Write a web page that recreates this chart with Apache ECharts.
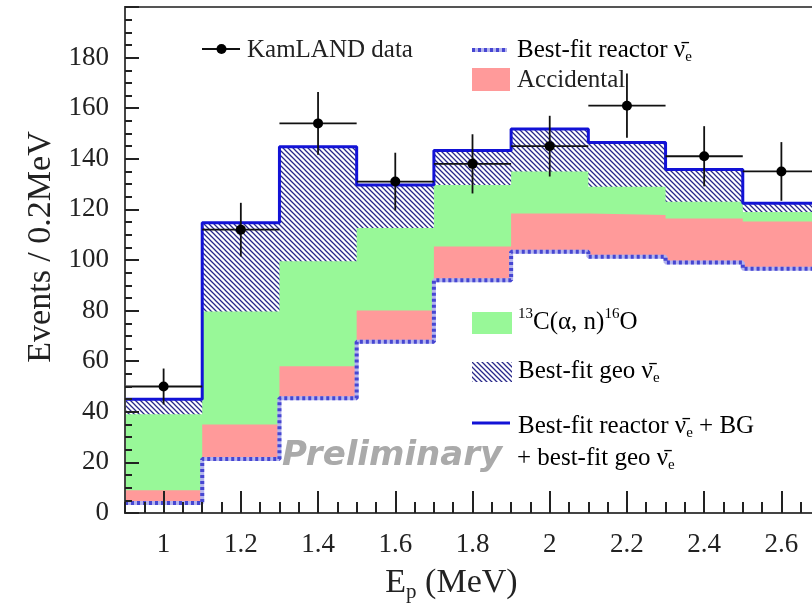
<!DOCTYPE html>
<html>
<head>
<meta charset="utf-8">
<script src="https://cdn.jsdelivr.net/npm/echarts@6/dist/echarts.min.js"></script>
<style>
html,body{margin:0;padding:0;background:#fff;}
#chart{width:812px;height:605px;}
</style>
</head>
<body>
<div id="chart"></div>
<script>
// ---- data ----
const binEdges = [0.9, 1.1, 1.3, 1.5, 1.7, 1.9, 2.1, 2.3, 2.5, 2.7];
// cumulative stacked tops per bin
const reactorBestFit = [4, 21.3, 45.4, 67.7, 92, 103.3, 101.3, 99, 96.5];
const accidentalTop  = [9, 35, 58, 80, 105.3, 118.4, 117.8, 116.4, 115.2];
const c13Top         = [39, 79.6, 99.5, 112.6, 129.6, 135, 129, 123, 119];
const totalTop       = [45, 114.7, 144.8, 129.6, 143.3, 151.8, 146.4, 135.8, 122.4];
// KamLAND data points
const dataEp     = [1.0, 1.2, 1.4, 1.6, 1.8, 2.0, 2.2, 2.4, 2.6];
const dataCounts = [50, 112, 154, 131, 138, 145, 161, 141, 135];
const dataErr    = [7.1, 10.6, 12.4, 11.4, 11.7, 12.0, 12.7, 11.9, 11.6];
const binHalf    = 0.1;

const serif = "'Liberation Serif', 'Times New Roman', serif";
const NU = '\u03bd\u0304';

function stepData(vals) {
  return binEdges.map((e, i) => [e, vals[Math.min(i, vals.length - 1)]]);
}

// hatch pattern tile
function makeHatch() {
  const s = 5;
  const c = document.createElement('canvas');
  c.width = s; c.height = s;
  const g = c.getContext('2d');
  g.fillStyle = '#ffffff';
  g.fillRect(0, 0, s, s);
  g.strokeStyle = '#28288a';
  g.lineWidth = 1.25;
  g.beginPath();
  g.moveTo(-s / 2, -s / 2); g.lineTo(1.5 * s, 1.5 * s);
  g.moveTo(-s / 2, s / 2); g.lineTo(s / 2, 1.5 * s);
  g.moveTo(s / 2, -s / 2); g.lineTo(1.5 * s, s / 2);
  g.stroke();
  return c;
}
const hatch = { image: makeHatch(), repeat: 'repeat' };

const chart = echarts.init(document.getElementById('chart'), null, { renderer: 'canvas' });

const areaSeries = (name, vals, color, z) => ({
  type: 'line', name, data: stepData(vals), step: 'end', symbol: 'none',
  lineStyle: { opacity: 0, width: 0 },
  areaStyle: { color, opacity: 1 },
  z, silent: true, animation: false
});

const legendText = { fontFamily: serif, fontSize: 25, fill: '#222' };
const richT = { fontFamily: serif, fontSize: 25, lineHeight: 30, color: '#222' };
const richS = { fontFamily: serif, fontSize: 15, color: '#222', verticalAlign: 'bottom' };
const richP = { fontFamily: serif, fontSize: 15, color: '#222', verticalAlign: 'top' };
const tickColor = '#222';

const option = {
  animation: false,
  backgroundColor: '#ffffff',
  grid: {
    left: 125, top: 7, bottom: 92, right: -8, containLabel: false, outerBoundsMode: 'none',
    show: true, borderColor: '#555', borderWidth: 2, backgroundColor: 'transparent', z: -20
  },
  xAxis: [
    {
      type: 'value', min: 0.9, max: 2.7, splitNumber: 9, position: 'bottom', z: 10,
      name: '{a|E}{s|p}{a| (MeV)}', nameLocation: 'middle', nameGap: 50,
      nameTextStyle: {
        padding: [0, 42, 0, 0],
        rich: {
          a: { fontFamily: serif, fontSize: 34, color: '#222', lineHeight: 40 },
          s: { fontFamily: serif, fontSize: 21, color: '#222', verticalAlign: 'bottom', lineHeight: 40 }
        }
      },
      axisLine: { show: true, onZero: false, lineStyle: { color: '#444', width: 2 } },
      axisTick: { show: true, inside: true, length: 22, lineStyle: { color: tickColor, width: 2 } },
      minorTick: { show: false },
      axisLabel: { fontFamily: serif, fontSize: 27, color: '#222', margin: 18, showMinLabel: false, showMaxLabel: false },
      splitLine: { show: false }
    },
    {
      type: 'value', min: 0.9, max: 2.7, splitNumber: 36, position: 'bottom', offset: 0, z: 10,
      axisLine: { show: false, onZero: false },
      axisTick: { show: true, inside: true, length: 11, lineStyle: { color: tickColor, width: 2 } },
      axisLabel: { show: false },
      splitLine: { show: false }
    }
  ],
  yAxis: {
    type: 'value', min: 0, max: 200, interval: 20, z: 10,
    name: 'Events / 0.2MeV', nameLocation: 'middle', nameGap: 62,
    nameTextStyle: { fontFamily: serif, fontSize: 34, color: '#222', padding: [0, 0, 0, 26] },
    axisLine: { show: true, lineStyle: { color: '#444', width: 2 } },
    axisTick: { show: true, inside: true, length: 14, lineStyle: { color: tickColor, width: 2 } },
    minorTick: { show: true, splitNumber: 4, length: 7, lineStyle: { color: tickColor, width: 2 } },
    axisLabel: { fontFamily: serif, fontSize: 27, color: '#222', margin: 16, showMaxLabel: false },
    splitLine: { show: false }
  },
  series: [
    areaSeries('Best-fit geo', totalTop, hatch, -10),
    areaSeries('13C(a,n)16O', c13Top, '#98f898', -9),
    areaSeries('Accidental', accidentalTop, '#ff9a9a', -8),
    areaSeries('below reactor', reactorBestFit, '#ffffff', -7),
    {
      type: 'line', name: 'reactor base', data: stepData(reactorBestFit), step: 'end', symbol: 'none',
      lineStyle: { color: '#b4b4ee', width: 4 }, z: -6, silent: true
    },
    {
      type: 'line', name: 'Best-fit reactor', data: stepData(reactorBestFit), step: 'end', symbol: 'none',
      lineStyle: { color: '#4646d2', width: 4, type: [3, 3] }, z: -5, silent: true
    },
    {
      type: 'line', name: 'Best-fit total', data: stepData(totalTop), step: 'end', symbol: 'none',
      lineStyle: { color: '#1212d6', width: 3 }, z: -4, silent: true
    },
    {
      type: 'custom', name: 'KamLAND data', z: -3, silent: true,
      data: dataEp.map((x, i) => [x, dataCounts[i], dataErr[i], binHalf]),
      renderItem: function (params, api) {
        const x = api.value(0), y = api.value(1), e = api.value(2), hw = api.value(3);
        const c = api.coord([x, y]);
        const l = api.coord([x - hw, y]);
        const r = api.coord([x + hw, y]);
        const t = api.coord([x, y + e]);
        const b = api.coord([x, y - e]);
        const st = { stroke: '#111', lineWidth: 1.8 };
        return {
          type: 'group',
          children: [
            { type: 'line', shape: { x1: l[0], y1: l[1], x2: r[0], y2: r[1] }, style: st },
            { type: 'line', shape: { x1: t[0], y1: t[1], x2: b[0], y2: b[1] }, style: st },
            { type: 'circle', shape: { cx: c[0], cy: c[1], r: 5 }, style: { fill: '#000' } }
          ]
        };
      }
    }
  ],
  graphic: [
    { type: 'line', shape: { x1: 202, y1: 49, x2: 240, y2: 49 }, style: { stroke: '#111', lineWidth: 1.8 }, z: 20 },
    { type: 'circle', shape: { cx: 221.5, cy: 49, r: 5 }, style: { fill: '#000' }, z: 20 },
    { type: 'text', x: 247, y: 50, style: Object.assign({ text: 'KamLAND data', verticalAlign: 'middle' }, legendText), z: 20 },
    { type: 'line', shape: { x1: 472, y1: 50, x2: 507, y2: 50 }, style: { stroke: '#b4b4ee', lineWidth: 4 }, z: 20 },
    { type: 'line', shape: { x1: 472, y1: 50, x2: 507, y2: 50 }, style: { stroke: '#4646d2', lineWidth: 4, lineDash: [3, 3] }, z: 20 },
    { type: 'text', x: 517, y: 50, style: { text: '{t|Best-fit reactor ' + NU + '}{s|e}', verticalAlign: 'middle', rich: { t: richT, s: richS } }, z: 20 },
    { type: 'rect', shape: { x: 472, y: 68, width: 38, height: 23 }, style: { fill: '#ff9a9a' }, z: 20 },
    { type: 'text', x: 517, y: 80, style: Object.assign({ text: 'Accidental', verticalAlign: 'middle' }, legendText), z: 20 },
    { type: 'rect', shape: { x: 472, y: 312, width: 40, height: 22 }, style: { fill: '#98f898' }, z: 20 },
    { type: 'text', x: 518, y: 322, style: { text: '{p|13}{t|C(\u03b1, n)}{p|16}{t|O}', verticalAlign: 'middle', rich: { t: richT, p: richP } }, z: 20 },
    { type: 'rect', shape: { x: 472, y: 362, width: 40, height: 20 }, style: { fill: hatch }, z: 20 },
    { type: 'text', x: 518, y: 371, style: { text: '{t|Best-fit geo ' + NU + '}{s|e}', verticalAlign: 'middle', rich: { t: richT, s: richS } }, z: 20 },
    { type: 'line', shape: { x1: 472, y1: 423, x2: 510, y2: 423 }, style: { stroke: '#1212d6', lineWidth: 3 }, z: 20 },
    { type: 'text', x: 518, y: 426, style: { text: '{t|Best-fit reactor ' + NU + '}{s|e}{t| + BG}', verticalAlign: 'middle', rich: { t: richT, s: richS } }, z: 20 },
    { type: 'text', x: 517, y: 458, style: { text: '{t|+ best-fit geo ' + NU + '}{s|e}', verticalAlign: 'middle', rich: { t: richT, s: richS } }, z: 20 },
    { type: 'text', x: 282, y: 456, style: { text: 'Preliminary', fontFamily: "'DejaVu Sans', 'Liberation Sans', sans-serif", fontWeight: 'bold', fontStyle: 'italic', fontSize: 34, fill: '#aaaaaa', verticalAlign: 'middle' }, z: 20 }
  ]
};

chart.setOption(option);
</script>
</body>
</html>
